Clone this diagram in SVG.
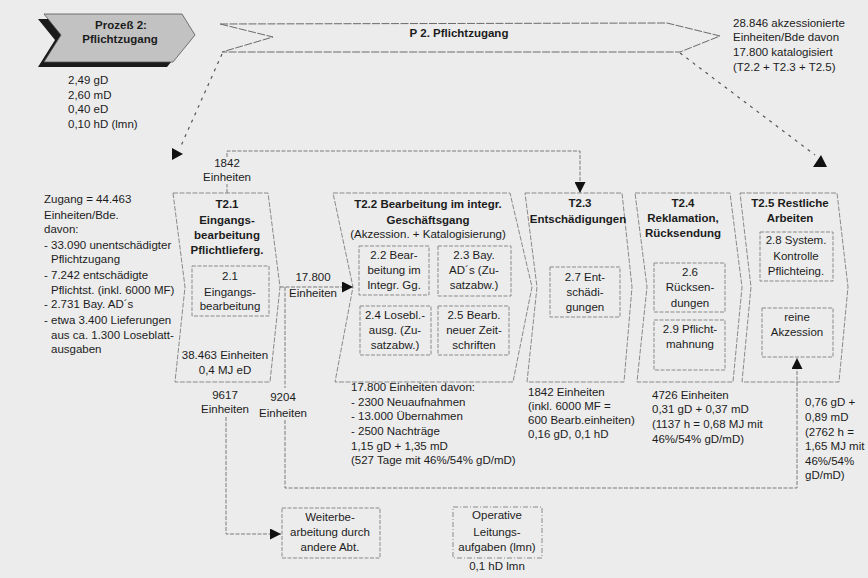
<svg xmlns="http://www.w3.org/2000/svg" width="868" height="578" viewBox="0 0 868 578">
<defs>
<style>
.t{font-family:"Liberation Sans",Arial,Helvetica,sans-serif;font-size:11.5px;fill:#1c1c1c}
.b{font-weight:bold}
.c{text-anchor:middle}
.chev{fill:none;stroke:#8a8a8a;stroke-width:1;stroke-dasharray:5 1.5}
.box{fill:none;stroke:#8a8a8a;stroke-width:1;stroke-dasharray:4 1.5}
.dd{fill:none;stroke:#8a8a8a;stroke-width:1;stroke-dasharray:5 2 1 2}
.con{fill:none;stroke:#7a7a7a;stroke-width:1;stroke-dasharray:4 1.5}
.dot{fill:none;stroke:#555;stroke-width:1.2;stroke-dasharray:3 5}
.big{fill:none;stroke:#6a6a6a;stroke-width:1;stroke-dasharray:8 1.5}
.ah{fill:#111}
</style>
<marker id="arr" markerWidth="11" markerHeight="11" refX="11" refY="5.5" orient="auto" markerUnits="userSpaceOnUse">
<path d="M0,0 L11,5.5 L0,11 z" fill="#111"/>
</marker>
</defs>
<rect x="0" y="0" width="868" height="578" fill="#ececec"/>

<g id="process">
<polygon points="38,19 176,19 189,40 167,67 38,67 55,40" fill="#1a1a1a"/>
<polygon points="44,14 182,14 195,35 173,62 44,62 61,35" fill="#c2c2c2" stroke="#555" stroke-width="0.8"/>
<text class="t b c" x="121" y="29">Prozeß 2:</text>
<text class="t b c" x="120" y="43">Pflichtzugang</text>
<text class="t" x="68" y="84">2,49 gD</text>
<text class="t" x="68" y="98.5">2,60 mD</text>
<text class="t" x="68" y="113">0,40 eD</text>
<text class="t" x="68" y="127.5">0,10 hD  (lmn)</text>
</g>

<g id="p2">
<polygon class="big" points="220,24 667,23 720,36 680,52 222,52 273,37"/>
<text class="t b c" x="459" y="37">P 2. Pflichtzugang</text>
</g>

<g id="summary">
<text class="t" x="733" y="27">28.846 akzessionierte</text>
<text class="t" x="733" y="41">Einheiten/Bde davon</text>
<text class="t" x="733" y="56">17.800 katalogisiert</text>
<text class="t" x="733" y="71">(T2.2 + T2.3 + T2.5)</text>
</g>

<g id="zugang">
<text class="t" x="44" y="203">Zugang = 44.463</text>
<text class="t" x="44" y="219">Einheiten/Bde.</text>
<text class="t" x="44" y="233">davon:</text>
<text class="t" x="44" y="249">- 33.090 unentschädigter</text>
<text class="t" x="51" y="263">Pflichtzugang</text>
<text class="t" x="44" y="279">- 7.242 entschädigte</text>
<text class="t" x="51" y="294">Pflichtst.  (inkl. 6000 MF)</text>
<text class="t" x="44" y="308">- 2.731 Bay. AD´s</text>
<text class="t" x="44" y="324">- etwa 3.400 Lieferungen</text>
<text class="t" x="51" y="339">aus ca. 1.300 Loseblatt-</text>
<text class="t" x="51" y="353">ausgaben</text>
</g>

<g id="t21">
<polygon class="chev" points="173,193 268,193 280,287 270,382 175,382 185,287"/>
<text class="t b c" x="227" y="208">T2.1</text>
<text class="t b c" x="227" y="224">Eingangs-</text>
<text class="t b c" x="227" y="239">bearbeitung</text>
<text class="t b c" x="227" y="254">Pflichtlieferg.</text>
<rect class="box" x="192" y="266" width="77" height="50"/>
<text class="t c" x="230" y="280">2.1</text>
<text class="t c" x="230" y="296">Eingangs-</text>
<text class="t c" x="230" y="310">bearbeitung</text>
<text class="t c" x="225" y="359">38.463 Einheiten</text>
<text class="t c" x="225" y="374">0,4 MJ eD</text>
</g>

<g id="t22">
<polygon class="chev" points="333,193 510,193 532,287 513,382 335,382 353,287"/>
<text class="t b c" x="428" y="208">T2.2 Bearbeitung im integr.</text>
<text class="t b c" x="428" y="224">Geschäftsgang</text>
<text class="t c" x="428" y="238">(Akzession. + Katalogisierung)</text>
<rect class="box" x="359" y="246" width="70" height="49"/>
<text class="t c" x="394" y="259">2.2 Bear-</text>
<text class="t c" x="394" y="274">beitung im</text>
<text class="t c" x="394" y="289">Integr. Gg.</text>
<rect class="box" x="438" y="246" width="73" height="50"/>
<text class="t c" x="474" y="259">2.3 Bay.</text>
<text class="t c" x="474" y="274">AD´s (Zu-</text>
<text class="t c" x="474" y="289">satzabw.)</text>
<rect class="box" x="360" y="306" width="71" height="49"/>
<text class="t c" x="395" y="319">2.4 Losebl.-</text>
<text class="t c" x="395" y="334">ausg. (Zu-</text>
<text class="t c" x="395" y="349">satzabw.)</text>
<rect class="box" x="438" y="306" width="71" height="49"/>
<text class="t c" x="474" y="319">2.5 Bearb.</text>
<text class="t c" x="474" y="334">neuer Zeit-</text>
<text class="t c" x="474" y="349">schriften</text>
<text class="t" x="351" y="391">17.800 Einheiten davon:</text>
<text class="t" x="351" y="406">- 2300 Neuaufnahmen</text>
<text class="t" x="351" y="420">- 13.000 Übernahmen</text>
<text class="t" x="351" y="435">- 2500 Nachträge</text>
<text class="t" x="351" y="450">1,15 gD + 1,35 mD</text>
<text class="t" x="351" y="464">(527 Tage mit 46%/54% gD/mD)</text>
</g>

<g id="t23">
<polygon class="chev" points="525,193 622,193 632,287 624,382 527,382 537,287"/>
<text class="t b c" x="580" y="207">T2.3</text>
<text class="t b c" x="578" y="223">Entschädigungen</text>
<rect class="box" x="550" y="267" width="70" height="50"/>
<text class="t c" x="585" y="281">2.7 Ent-</text>
<text class="t c" x="585" y="296">schädi-</text>
<text class="t c" x="585" y="311">gungen</text>
<text class="t" x="528" y="396">1842 Einheiten</text>
<text class="t" x="528" y="410">(inkl. 6000 MF =</text>
<text class="t" x="528" y="424">600 Bearb.einheiten)</text>
<text class="t" x="528" y="438">0,16 gD, 0,1 hD</text>
</g>

<g id="t24">
<polygon class="chev" points="635,193 730,193 742,287 733,382 637,382 647,287"/>
<text class="t b c" x="683" y="207">T2.4</text>
<text class="t b c" x="683" y="222">Reklamation,</text>
<text class="t b c" x="683" y="237">Rücksendung</text>
<rect class="box" x="654" y="263" width="71" height="49"/>
<text class="t c" x="690" y="276">2.6</text>
<text class="t c" x="690" y="291">Rücksen-</text>
<text class="t c" x="690" y="307">dungen</text>
<rect class="box" x="654" y="320" width="71" height="50"/>
<text class="t c" x="690" y="333">2.9 Pflicht-</text>
<text class="t c" x="690" y="348">mahnung</text>
<text class="t" x="652" y="399">4726 Einheiten</text>
<text class="t" x="652" y="413">0,31 gD + 0,37 mD</text>
<text class="t" x="652" y="428">(1137 h = 0,68 MJ mit</text>
<text class="t" x="652" y="443">46%/54% gD/mD)</text>
</g>

<g id="t25">
<polygon class="chev" points="740,193 837,193 848,287 839,382 742,382 751,287"/>
<text class="t b c" x="790" y="207">T2.5 Restliche</text>
<text class="t b c" x="790" y="222">Arbeiten</text>
<rect class="box" x="760" y="232" width="73" height="49"/>
<text class="t c" x="796" y="244">2.8 System.</text>
<text class="t c" x="796" y="260">Kontrolle</text>
<text class="t c" x="796" y="275">Pflichteing.</text>
<rect class="box" x="762" y="308" width="71" height="49"/>
<text class="t c" x="797" y="321">reine</text>
<text class="t c" x="797" y="336">Akzession</text>
<text class="t" x="805" y="406">0,76 gD +</text>
<text class="t" x="805" y="421">0,89 mD</text>
<text class="t" x="805" y="436">(2762 h =</text>
<text class="t" x="805" y="450">1,65 MJ mit</text>
<text class="t" x="805" y="465">46%/54%</text>
<text class="t" x="805" y="479">gD/mD)</text>
</g>

<g id="weiterbearbeitung">
<rect class="box" x="282" y="508" width="98" height="50"/>
<text class="t c" x="330" y="521">Weiterbe-</text>
<text class="t c" x="330" y="536">arbeitung durch</text>
<text class="t c" x="330" y="551">andere Abt.</text>
</g>

<g id="operative">
<rect class="dd" x="453" y="507" width="89" height="51"/>
<text class="t c" x="497" y="519">Operative</text>
<text class="t c" x="497" y="536">Leitungs-</text>
<text class="t c" x="497" y="551">aufgaben (lmn)</text>
<text class="t c" x="497" y="570">0,1 hD lmn</text>
</g>

<g id="connectors">
<path class="dot" d="M222,54 L180,148"/>
<polygon class="ah" points="172,148 183,154 172,160"/>
<path class="dot" d="M680,53 L815,155"/>
<polygon class="ah" points="813,167 827,167 821,155"/>
<path class="con" d="M227,193 V184 M227,157 V151 H580 V193" marker-end="url(#arr)"/>
<text class="t c" x="227" y="167">1842</text>
<text class="t c" x="227" y="181">Einheiten</text>
<path class="con" d="M280,287 H353" marker-end="url(#arr)"/>
<text class="t c" x="313" y="281">17.800</text>
<text class="t c" x="313" y="297">Einheiten</text>
<path class="con" d="M285,287 V388 M285,420 V488 H797 V358" marker-end="url(#arr)"/>
<text class="t c" x="283" y="401">9204</text>
<text class="t c" x="283" y="417">Einheiten</text>
<path class="con" d="M226,417 V534 H281" marker-end="url(#arr)"/>
<text class="t c" x="225" y="399">9617</text>
<text class="t c" x="225" y="413">Einheiten</text>
</g>
</svg>
